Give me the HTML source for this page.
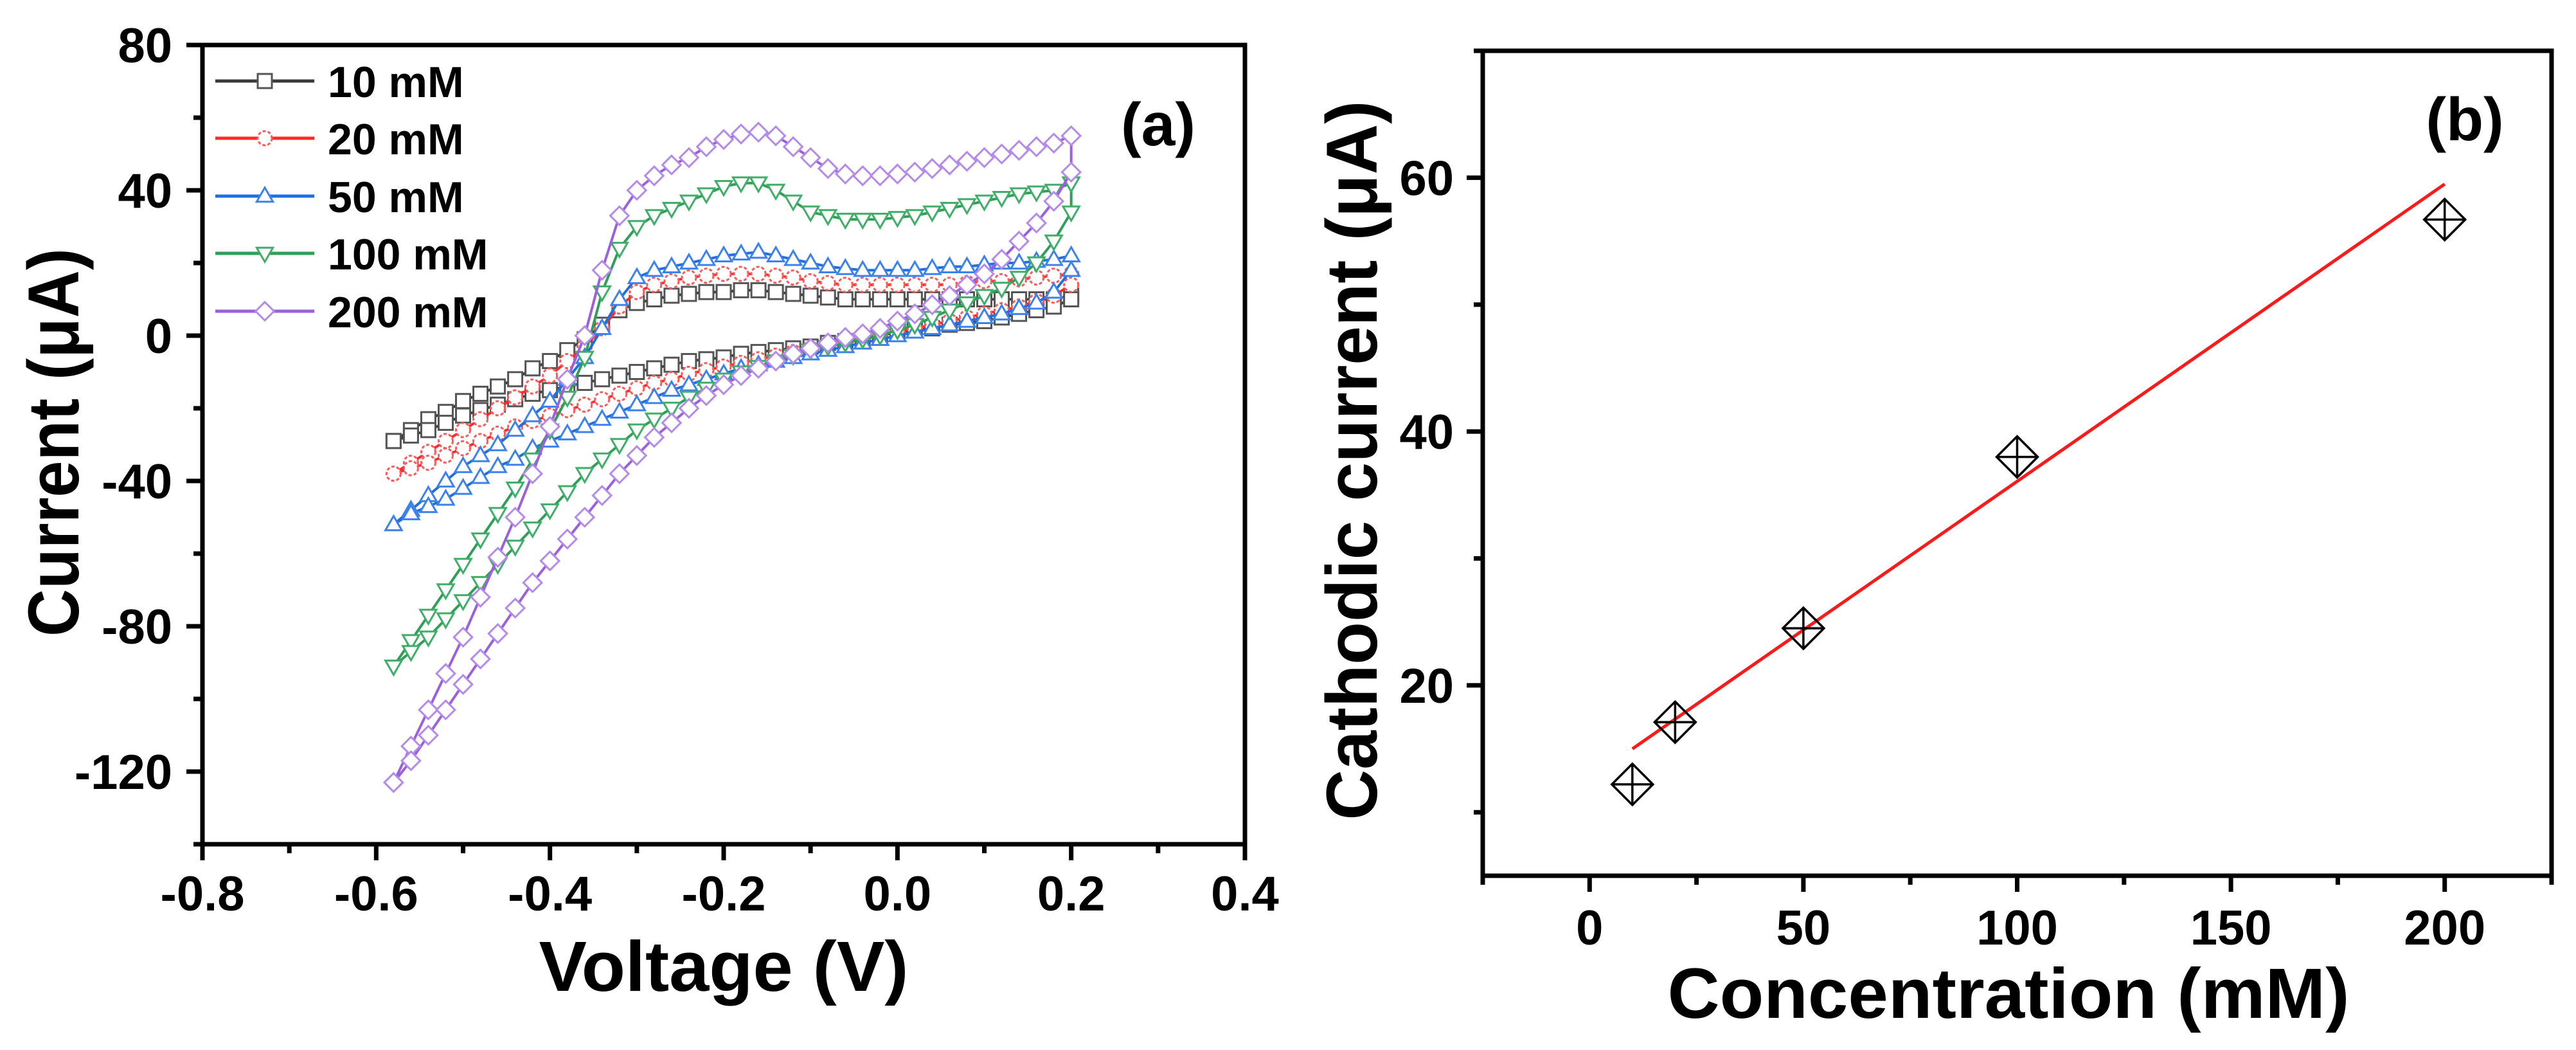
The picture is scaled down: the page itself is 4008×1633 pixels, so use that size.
<!DOCTYPE html>
<html><head><meta charset="utf-8"><style>
html,body{margin:0;padding:0;background:#fff;}
svg{display:block;font-family:"Liberation Sans",Arial,sans-serif;font-weight:bold;}
</style></head><body>
<svg id="fig" width="4008" height="1633" viewBox="0 0 4008 1633" xmlns="http://www.w3.org/2000/svg">
<rect width="4008" height="1633" fill="#fff"/>
<g id="pa"></g>
<g id="pb"></g>
</svg>
<script>
// ---------- Panel (a) data ----------
const voltages = [-0.58,-0.56,-0.54,-0.52,-0.50,-0.48,-0.46,-0.44,-0.42,-0.40,-0.38,-0.36,-0.34,-0.32,-0.30,-0.28,-0.26,-0.24,-0.22,-0.20,-0.18,-0.16,-0.14,-0.12,-0.10,-0.08,-0.06,-0.04,-0.02,0.00,0.02,0.04,0.06,0.08,0.10,0.12,0.14,0.16,0.18,0.20];
const seriesNames = ["10 mM","20 mM","50 mM","100 mM","200 mM"];
const up10 = [-29,-26,-23,-21,-18,-16,-14,-12,-9,-7,-4,-1,3,7,9,10,11,11.5,12,12,12.5,12.5,12,11.5,11,10.5,10,10,10,10,10,10,10,10,10,10,10,10,10,11];
const low10 = [-29,-27.5,-26,-24,-22,-20.5,-19,-17.5,-16,-15,-14,-13,-12,-11,-10,-9,-8,-7,-6.5,-6,-5,-4.5,-4,-3.5,-3,-2,-1.5,-1,0,1,1.5,2,3,3.5,4,5,6,7,8,10];
const up20 = [-38,-35,-32,-29,-26,-23,-20,-17,-14,-11,-7,-3,2,8,12,14,15,16,16.5,17,17,17,16.5,16,15,14.5,14,14,14,14,14,14,14,14.5,15,15,15.5,16,16.5,17];
const low20 = [-38,-36.5,-35,-33,-31,-29,-27,-25,-23.5,-22,-20.5,-19,-17.5,-16,-14.5,-13,-12,-10.5,-9.5,-8.5,-7.5,-6.5,-5.5,-4.5,-3.5,-2.5,-1.5,-0.5,0.5,1,2,3,4,5,6,7,8,9.5,11,14];
const up50 = [-52,-48,-44,-40,-36,-33,-30,-26,-22,-18,-12,-6,2,10,16,18,19,20,21,22,22.5,23,22,21,20,19,18.5,18,18,18,18,18.5,19,19,19.5,20,20,20.5,21,22];
const low50 = [-52,-49,-47,-45,-42,-39,-36,-34,-31,-29,-27,-25,-23,-21,-19,-17,-15,-13.5,-12,-10.5,-9,-8,-7,-6,-5,-4,-3,-2,-1,0,1,2,3,4,5,6,7.5,9,12,18];
const up100 = [-91,-84,-77,-70,-63,-56,-49,-42,-34,-26,-17,-6,12,24,30,33,35,37,39,41,42,42,40,37,34,33,32,32,32,32.5,33,34,35,36,37,38,39,39.5,40,42];
const low100 = [-91,-87,-83,-78,-73,-68,-63,-58,-53,-48,-43,-38,-34,-30,-26,-23,-20,-17,-14.5,-12,-10,-8.5,-7,-5.5,-4,-3,-2,-1,0,1.5,3,5,7,9,11,13,16,20,26,34];
const up200 = [-123,-113,-103,-93,-83,-72,-61,-50,-38,-25,-12,0,18,33,40,44,47,49,52,54,55.5,56,55,52,49,46,44.5,44,44,44.5,45,46,47,48,49,50,51,52,53,55];
const low200 = [-123,-117,-110,-103,-96,-89,-82,-75,-68,-62,-56,-50,-44,-38,-33,-28,-24,-20,-16.5,-13.5,-11,-9,-7,-5,-3.5,-2,-0.5,0.5,2,4,6,8.5,11,14,17,21,26,31,37,45];
const xTicksA = [-0.8,-0.6,-0.4,-0.2,0.0,0.2,0.4];
const xTickLabelsA = ["-0.8","-0.6","-0.4","-0.2","0.0","0.2","0.4"];
const yTicksA = [80,40,0,-40,-80,-120];
const yTickLabelsA = ["80","40","0","-40","-80","-120"];

// ---------- Panel (b) data ----------
const concentrations = [10,20,50,100,200];
const cathodic = [12.2,17.1,24.5,38.0,56.7];
const fitX = [10,200];
const fitY = [15.0,59.5];
const xTicksB = [0,50,100,150,200];
const xTickLabelsB = ["0","50","100","150","200"];
const yTicksB = [20,40,60];
const yTickLabelsB = ["20","40","60"];

const NS="http://www.w3.org/2000/svg";
function mk(parent,tag,attrs,text){const e=document.createElementNS(NS,tag);for(const k in attrs)e.setAttribute(k,attrs[k]);if(text!==undefined)e.textContent=text;parent.appendChild(e);return e;}

// ===== Panel A =====
const A={x0:315,x1:1937,y0:70,y1:1313,vmin:-0.8,vmax:0.4,imax:80,imin:-140};
const ax=v=>A.x0+(v-A.vmin)/(A.vmax-A.vmin)*(A.x1-A.x0);
const ay=i=>A.y0+(A.imax-i)/(A.imax-A.imin)*(A.y1-A.y0);
const pa=document.getElementById('pa');
const colors=["#3a3a3a","#ff2a2a","#1f6fe0","#2f9e57","#9c60de"];
const mcolors=["#555","#ff5a5a","#3b82ee","#3fae68","#b48aea"];
const shapes=["square","circle","up","down","diamond"];
const ups=[up10,up20,up50,up100,up200];
const lows=[low10,low20,low50,low100,low200];

function marker(g,shape,x,y,s,col){
  let e;
  if(shape==="square") e=mk(g,'rect',{x:x-s,y:y-s,width:2*s,height:2*s});
  else if(shape==="circle") e=mk(g,'circle',{cx:x,cy:y,r:s,'stroke-dasharray':'5 3'});
  else if(shape==="up") e=mk(g,'polygon',{points:`${x},${y-s*1.2} ${x+s*1.15},${y+s*0.8} ${x-s*1.15},${y+s*0.8}`});
  else if(shape==="down") e=mk(g,'polygon',{points:`${x},${y+s*1.2} ${x+s*1.15},${y-s*0.8} ${x-s*1.15},${y-s*0.8}`});
  else e=mk(g,'polygon',{points:`${x},${y-s*1.3} ${x+s*1.3},${y} ${x},${y+s*1.3} ${x-s*1.3},${y}`});
  e.setAttribute('fill','#fff');e.setAttribute('stroke',col);e.setAttribute('stroke-width','3');
  return e;
}

for(let s=0;s<5;s++){
  const g=mk(pa,'g',{});
  
  
  let pts=[];
  for(let i=0;i<voltages.length;i++)pts.push([ax(voltages[i]),ay(ups[s][i])]);
  for(let i=voltages.length-1;i>=0;i--)pts.push([ax(voltages[i]),ay(lows[s][i])]);
  const line=mk(g,'polyline',{points:pts.map(p=>p.join(',')).join(' '),fill:'none',stroke:colors[s],'stroke-width':4,'stroke-linejoin':'round'});
  
  
  pts.forEach(p=>{
    const m=marker(g,shapes[s],p[0],p[1],11,mcolors[s]);
    
    
  });
}
// axes box
mk(pa,'rect',{x:A.x0,y:A.y0,width:A.x1-A.x0,height:A.y1-A.y0,fill:'none',stroke:'#000','stroke-width':7});
// ticks
for(let v=-0.8;v<=0.401;v+=0.1){
  const major=Math.abs(Math.round(v*10)%2)===0;
  mk(pa,'line',{x1:ax(v),x2:ax(v),y1:A.y1,y2:A.y1+(major?25:14),stroke:'#000','stroke-width':7});
}
for(let i=80;i>=-140;i-=20){
  const major=(i%40===0);
  mk(pa,'line',{x1:A.x0,x2:A.x0-(major?25:14),y1:ay(i),y2:ay(i),stroke:'#000','stroke-width':7});
}
xTicksA.forEach((v,k)=>{
  const t=mk(pa,'text',{x:ax(v),y:1416,'font-size':76,'text-anchor':'middle'},xTickLabelsA[k]);
  
  
});
yTicksA.forEach((v,k)=>{
  const t=mk(pa,'text',{x:268,y:ay(v)+27,'font-size':76,'text-anchor':'end'},yTickLabelsA[k]);
  
  
});
{
  const t=mk(pa,'text',{x:1126,y:1541,'font-size':110,'text-anchor':'middle',textLength:575,lengthAdjust:'spacingAndGlyphs'},'Voltage (V)');
  
  
  const t2=mk(pa,'text',{x:0,y:0,'font-size':112,'text-anchor':'middle',transform:'translate(122,688) rotate(-90)',textLength:604,lengthAdjust:'spacingAndGlyphs'},'Current (\u03BCA)');
  
  
  const t3=mk(pa,'text',{x:1802,y:226,'font-size':95,'text-anchor':'middle'},'(a)');
  
  
}
// legend
const legY=[126,215,305,394,484];
const lg=mk(pa,'g',{});


for(let s=0;s<5;s++){
  const g=mk(lg,'g',{});
  
  
  mk(g,'line',{x1:335,x2:489,y1:legY[s],y2:legY[s],stroke:colors[s],'stroke-width':5});
  marker(g,shapes[s],412,legY[s],11,mcolors[s]);
  mk(g,'text',{x:510,y:legY[s]+25,'font-size':68},seriesNames[s]);
}

// ===== Panel B =====
const B={x0:2307,x1:3970,y0:79,y1:1362,cmin:-25,cmax:225,imin:5,imax:70};
const bx=c=>B.x0+(c-B.cmin)/(B.cmax-B.cmin)*(B.x1-B.x0);
const by=i=>B.y0+(B.imax-i)/(B.imax-B.imin)*(B.y1-B.y0);
const pb=document.getElementById('pb');
{
  const fl=mk(pb,'line',{x1:bx(fitX[0]),y1:by(fitY[0]),x2:bx(fitX[1]),y2:by(fitY[1]),stroke:'#ff1a1a','stroke-width':5});
  
  
}
concentrations.forEach((c,k)=>{
  const x=bx(c),y=by(cathodic[k]),s=32;
  const g=mk(pb,'g',{fill:'none',stroke:'#000','stroke-width':3.5});
  
  
  mk(g,'polygon',{points:`${x},${y-s} ${x+s},${y} ${x},${y+s} ${x-s},${y}`});
  mk(g,'line',{x1:x-s,x2:x+s,y1:y,y2:y});
  mk(g,'line',{x1:x,x2:x,y1:y-s,y2:y+s});
});
mk(pb,'rect',{x:B.x0,y:B.y0,width:B.x1-B.x0,height:B.y1-B.y0,fill:'none',stroke:'#000','stroke-width':7});
for(let c=-25;c<=225;c+=25){
  const major=(c%50===0);
  mk(pb,'line',{x1:bx(c),x2:bx(c),y1:B.y1,y2:B.y1+(major?25:14),stroke:'#000','stroke-width':7});
}
for(let i=10;i<=70;i+=10){
  const major=(i%20===0);
  mk(pb,'line',{x1:B.x0,x2:B.x0-(major?25:14),y1:by(i),y2:by(i),stroke:'#000','stroke-width':7});
}
xTicksB.forEach((v,k)=>{
  const t=mk(pb,'text',{x:bx(v),y:1469,'font-size':76,'text-anchor':'middle'},xTickLabelsB[k]);
  
  
});
yTicksB.forEach((v,k)=>{
  const t=mk(pb,'text',{x:2262,y:by(v)+27,'font-size':76,'text-anchor':'end'},yTickLabelsB[k]);
  
  
});
{
  const t=mk(pb,'text',{x:3125,y:1583,'font-size':110,'text-anchor':'middle',textLength:1061,lengthAdjust:'spacingAndGlyphs'},'Concentration (mM)');
  
  
  const t2=mk(pb,'text',{x:0,y:0,'font-size':112,'text-anchor':'middle',transform:'translate(2142,716) rotate(-90)',textLength:1119,lengthAdjust:'spacingAndGlyphs'},'Cathodic current (\u03BCA)');
  
  
  const t3=mk(pb,'text',{x:3835,y:218,'font-size':95,'text-anchor':'middle'},'(b)');
  
  
}
</script>
</body></html>
